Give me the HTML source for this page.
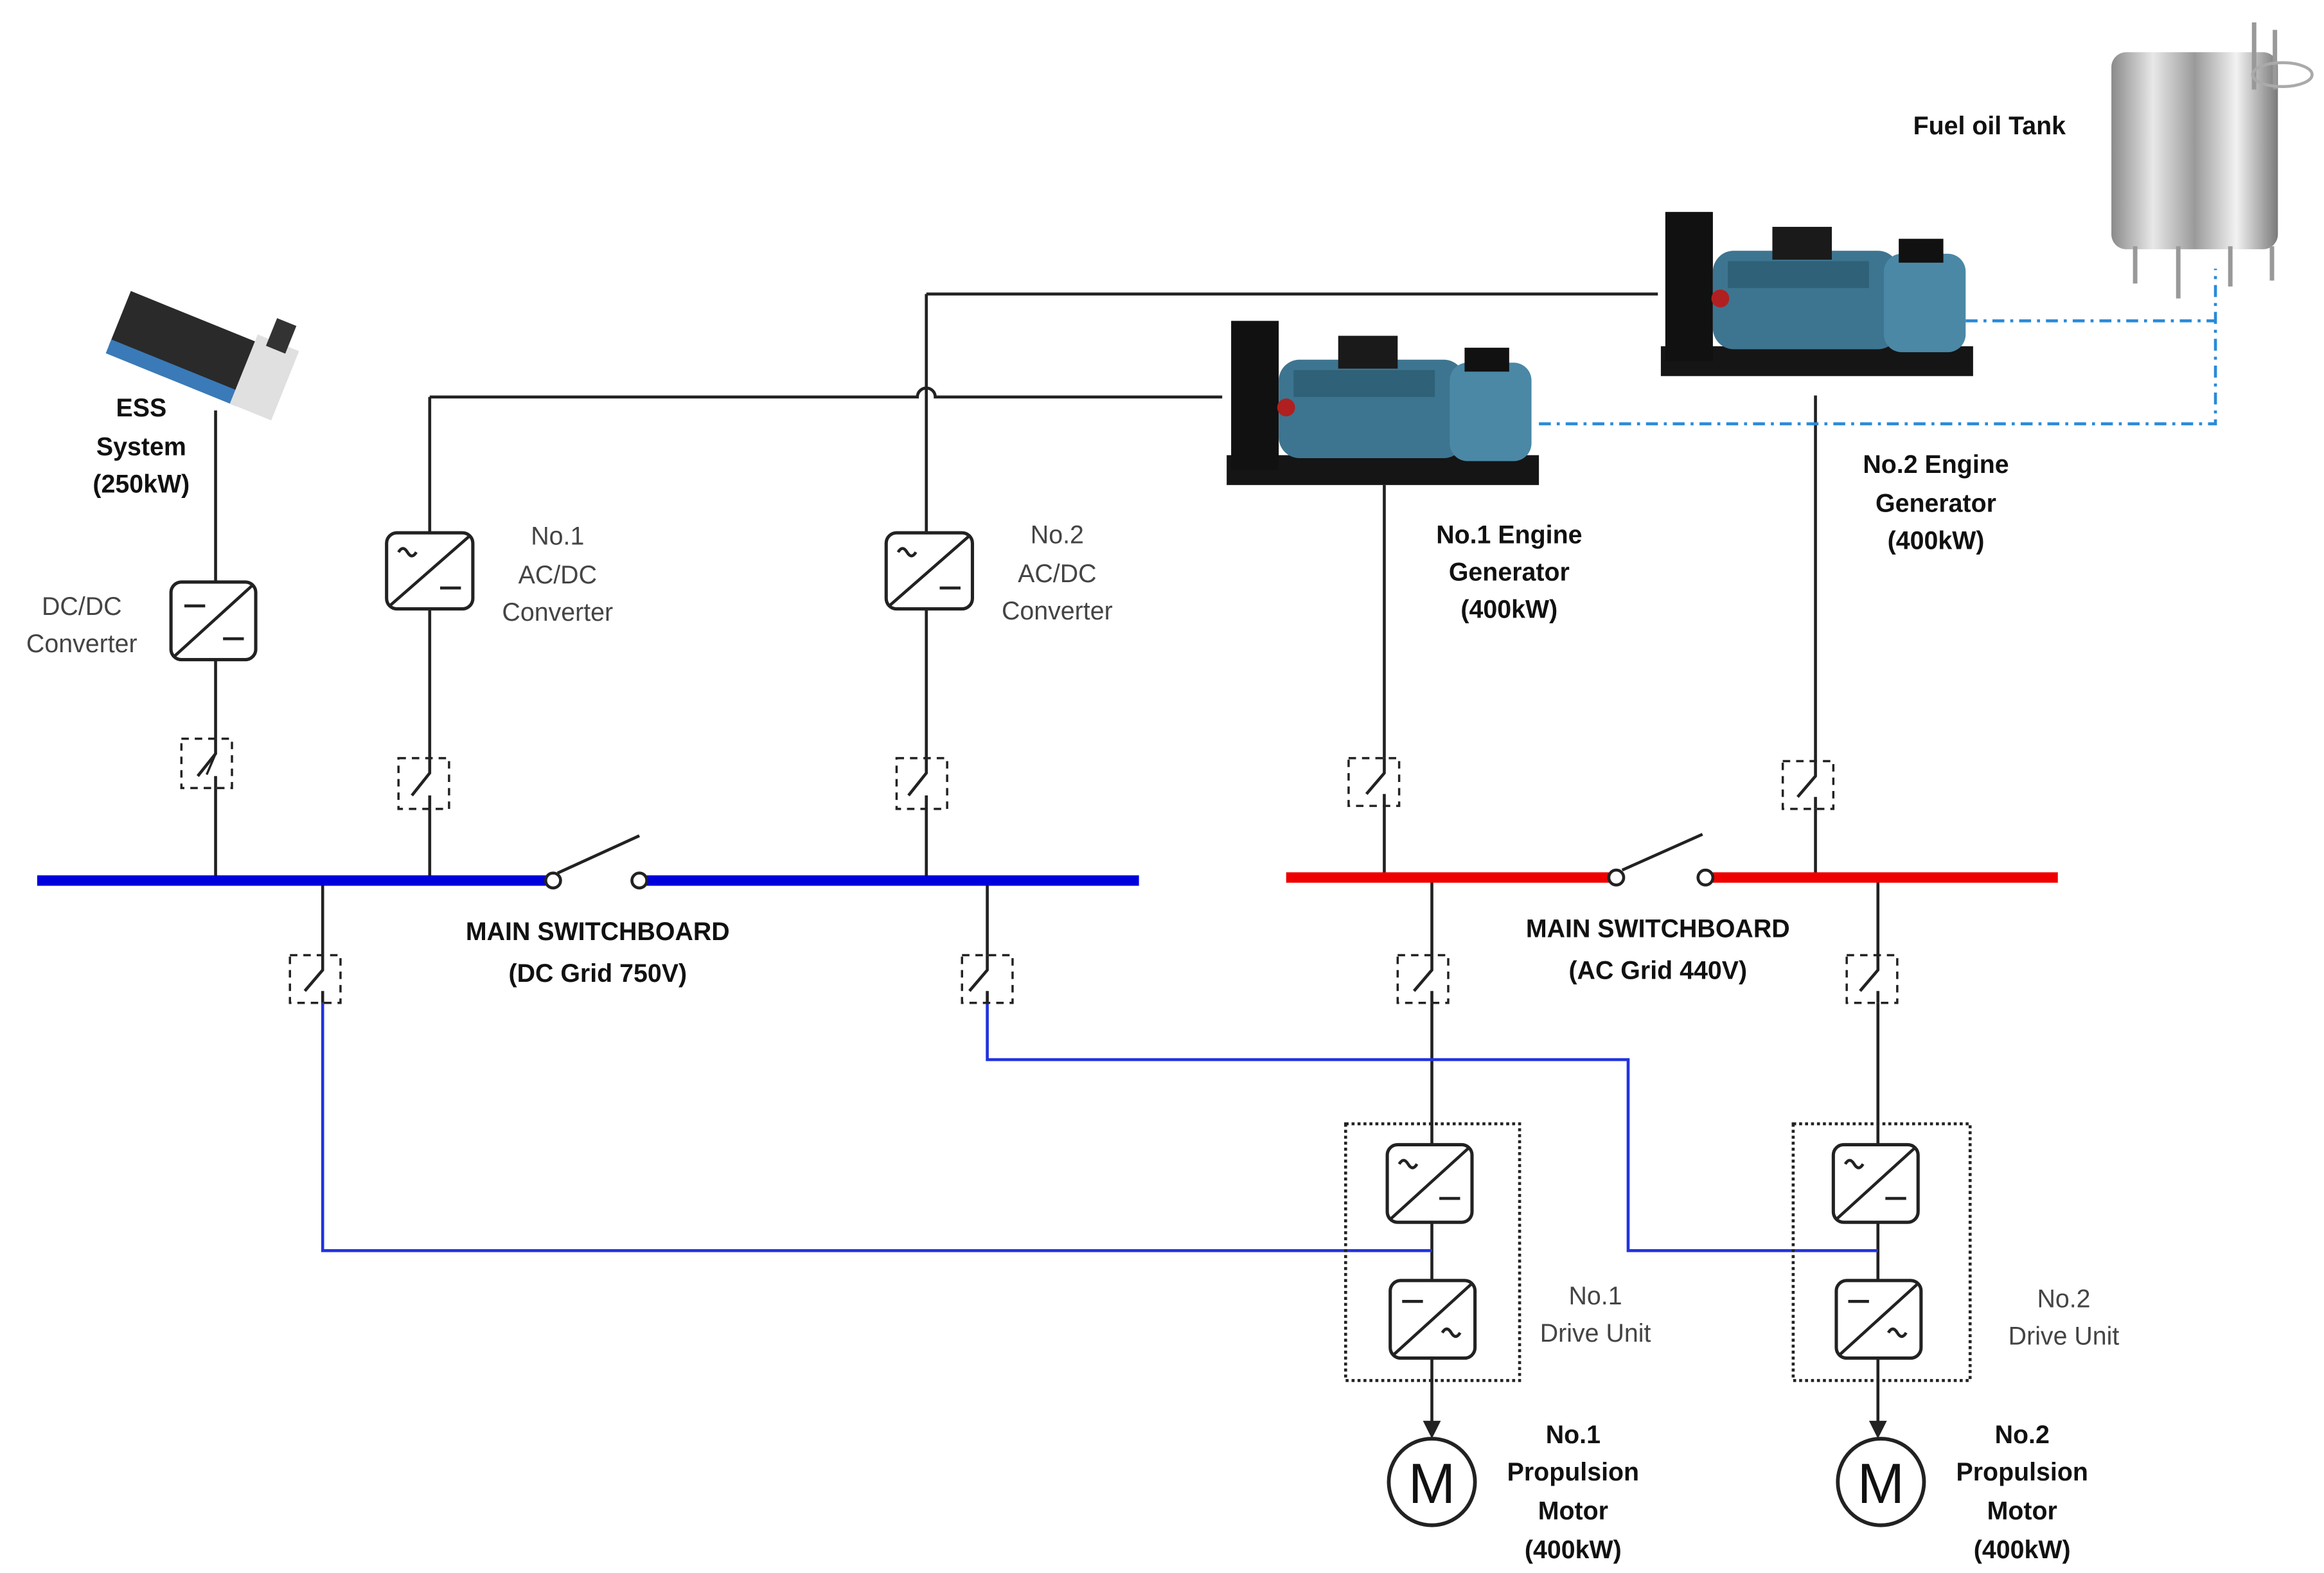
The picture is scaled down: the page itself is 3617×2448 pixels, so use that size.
<!DOCTYPE html>
<html><head><meta charset="utf-8"><style>
html,body{margin:0;padding:0;background:#fff;}
svg{display:block;}
text{font-family:"Liberation Sans",sans-serif;font-size:17px;fill:#111;text-anchor:middle;}
.b{font-weight:bold;}
.g{fill:#444;}
</style></head><body>
<svg width="3617" height="2448" viewBox="0 0 1563 1054" preserveAspectRatio="none" xmlns="http://www.w3.org/2000/svg">
<defs>
<linearGradient id="steel" x1="0" x2="1" y1="0" y2="0">
<stop offset="0" stop-color="#8a8a8a"/><stop offset="0.25" stop-color="#e8e8e8"/><stop offset="0.5" stop-color="#9a9a9a"/><stop offset="0.75" stop-color="#f2f2f2"/><stop offset="1" stop-color="#7a7a7a"/>
</linearGradient>
<g id="gen">
<rect x="0" y="92" width="210" height="20" fill="#151515"/>
<rect x="3" y="2" width="32" height="100" fill="#111"/>
<rect x="35" y="28" width="125" height="66" rx="14" fill="#3d7590"/>
<rect x="45" y="35" width="95" height="18" fill="#2f6178"/>
<rect x="75" y="12" width="40" height="22" fill="#1a1a1a"/>
<rect x="150" y="30" width="55" height="66" rx="12" fill="#4a88a6"/>
<rect x="160" y="20" width="30" height="16" fill="#111"/>
<circle cx="40" cy="60" r="6" fill="#b02020"/>
</g>
<g id="brk" fill="none" stroke="#222" stroke-width="1.5">
<rect x="-17" y="0" width="34" height="32" stroke-dasharray="5,4"/>
</g>
</defs>

<!-- black wiring -->
<g stroke="#222" stroke-width="2" fill="none">
<line x1="145" y1="275" x2="145" y2="590"/>
<line x1="289" y1="266" x2="289" y2="590"/>
<path d="M289 266 H617 A6 6 0 0 1 629 266 H822"/>
<line x1="623" y1="197" x2="623" y2="590"/>
<line x1="623" y1="197" x2="1115" y2="197"/>
<line x1="931" y1="325" x2="931" y2="590"/>
<line x1="1221" y1="265" x2="1221" y2="590"/>
<line x1="217" y1="592" x2="217" y2="672"/>
<line x1="664" y1="592" x2="664" y2="672"/>
<line x1="963" y1="590" x2="963" y2="955"/>
<line x1="1263" y1="590" x2="1263" y2="955"/>
</g>
<!-- arrows -->
<polygon points="957,952 969,952 963,964" fill="#222"/>
<polygon points="1257,952 1269,952 1263,964" fill="#222"/>
<!-- blue lines -->
<g stroke="#2233dd" stroke-width="2" fill="none">
<path d="M217 672 V838 H963"/>
<path d="M664 672 V710 H1095 V838 H1263"/>
</g>
<!-- fuel dash-dot -->
<g stroke="#2a8ad8" stroke-width="2" fill="none" stroke-dasharray="8,4,2,4">
<path d="M1322 215 H1490"/>
<path d="M1035 284 H1490 V180"/>
</g>

<!-- buses -->
<g stroke-width="7">
<line x1="25" y1="590" x2="367" y2="590" stroke="#0000dd"/>
<line x1="435" y1="590" x2="766" y2="590" stroke="#0000dd"/>
<line x1="865" y1="588" x2="1082" y2="588" stroke="#ee0000"/>
<line x1="1152" y1="588" x2="1384" y2="588" stroke="#ee0000"/>
</g>
<g stroke="#222" stroke-width="2" fill="#fff">
<line x1="375" y1="585" x2="430" y2="560"/>
<circle cx="372" cy="590" r="5"/><circle cx="430" cy="590" r="5"/>
<line x1="1091" y1="583" x2="1145" y2="559"/>
<circle cx="1087" cy="588" r="5"/><circle cx="1147" cy="588" r="5"/>
</g>

<!-- breakers -->
<g fill="#fff" stroke="#222" stroke-width="1.5">
<g transform="translate(139,495)"><rect x="-17" y="0" width="34" height="33" stroke-dasharray="5,4"/><path d="M6 2 V10 M6 10 L0 24" fill="none"/></g>
<g transform="translate(285,508)"><rect x="-17" y="0" width="34" height="34" stroke-dasharray="5,4"/></g>
<g transform="translate(620,508)"><rect x="-17" y="0" width="34" height="34" stroke-dasharray="5,4"/></g>
<g transform="translate(924,508)"><rect x="-17" y="0" width="34" height="32" stroke-dasharray="5,4"/></g>
<g transform="translate(1216,510)"><rect x="-17" y="0" width="34" height="32" stroke-dasharray="5,4"/></g>
<g transform="translate(212,640)"><rect x="-17" y="0" width="34" height="32" stroke-dasharray="5,4"/></g>
<g transform="translate(664,640)"><rect x="-17" y="0" width="34" height="32" stroke-dasharray="5,4"/></g>
<g transform="translate(957,640)"><rect x="-17" y="0" width="34" height="32" stroke-dasharray="5,4"/></g>
<g transform="translate(1259,640)"><rect x="-17" y="0" width="34" height="32" stroke-dasharray="5,4"/></g>
</g>
<g stroke="#222" stroke-width="2" fill="none">
<path d="M145 495 V505 L133 520 M145 520 V528"/>
<path d="M289 508 V518 L277 533 M289 533 V542"/>
<path d="M623 508 V518 L611 533 M623 533 V542"/>
<path d="M931 508 V518 L919 532 M931 532 V540"/>
<path d="M1221 510 V520 L1209 534 M1221 534 V542"/>
<path d="M217 640 V650 L205 664 M217 664 V672"/>
<path d="M664 640 V650 L652 664 M664 664 V672"/>
<path d="M963 640 V650 L951 664 M963 664 V672"/>
<path d="M1263 640 V650 L1251 664 M1263 664 V672"/>
</g>

<!-- drive unit dotted boxes -->
<g fill="none" stroke="#222" stroke-width="2" stroke-dasharray="2,2">
<rect x="905" y="753" width="117" height="172"/>
<rect x="1206" y="753" width="119" height="172"/>
</g>

<!-- converters -->
<g stroke="#222" stroke-width="2.2" fill="#fff">
<rect x="115" y="390" width="57" height="52" rx="7"/>
<rect x="260" y="357" width="58" height="51" rx="7"/>
<rect x="596" y="357" width="58" height="51" rx="7"/>
<rect x="933" y="767" width="57" height="52" rx="7"/>
<rect x="935" y="858" width="57" height="52" rx="7"/>
<rect x="1233" y="767" width="57" height="52" rx="7"/>
<rect x="1235" y="858" width="57" height="52" rx="7"/>
</g>
<g stroke="#222" stroke-width="2" fill="none">
<path d="M170 392 L117 440 M124 406 H138 M150 428 H164"/>
<path d="M316 359 L262 406 M296 394 H310 M268 370 q3 -5 6 0 t6 0"/>
<path d="M652 359 L598 406 M632 394 H646 M604 370 q3 -5 6 0 t6 0"/>
<path d="M988 769 L935 817 M968 803 H982 M941 780 q3 -5 6 0 t6 0"/>
<path d="M990 860 L937 908 M943 872 H957 M970 893 q3 -5 6 0 t6 0"/>
<path d="M1288 769 L1235 817 M1268 803 H1282 M1241 780 q3 -5 6 0 t6 0"/>
<path d="M1290 860 L1237 908 M1243 872 H1257 M1270 893 q3 -5 6 0 t6 0"/>
</g>

<!-- motors -->
<g stroke="#222" stroke-width="2.5" fill="#fff">
<circle cx="963" cy="993" r="29"/>
<circle cx="1265" cy="993" r="29"/>
</g>
<text x="963" y="1007" style="font-size:38px;">M</text>
<text x="1265" y="1007" style="font-size:38px;">M</text>

<!-- generators -->
<use href="#gen" transform="translate(825,213)"/>
<use href="#gen" transform="translate(1117,140)"/>

<!-- ESS -->
<g transform="translate(88,195) rotate(22)">
<rect x="0" y="0" width="95" height="40" fill="#2a2a2a"/>
<rect x="0" y="35" width="95" height="10" fill="#3a7ab8"/>
<rect x="90" y="-5" width="30" height="50" fill="#e0e0e0"/>
<rect x="98" y="-20" width="14" height="20" fill="#333"/>
</g>

<!-- Tank -->
<g>
<rect x="1420" y="35" width="112" height="132" rx="10" fill="url(#steel)"/>
<g stroke="#999" stroke-width="3">
<line x1="1436" y1="165" x2="1436" y2="190"/>
<line x1="1465" y1="165" x2="1465" y2="200"/>
<line x1="1500" y1="165" x2="1500" y2="192"/>
<line x1="1528" y1="165" x2="1528" y2="188"/>
<line x1="1516" y1="15" x2="1516" y2="60"/>
<line x1="1530" y1="20" x2="1530" y2="60"/>
</g>
<ellipse cx="1535" cy="50" rx="20" ry="8" fill="none" stroke="#aaa" stroke-width="2"/>
</g>

<!-- labels -->
<text class="b" x="1338" y="90">Fuel oil Tank</text>
<text class="b" x="95" y="279">ESS</text>
<text class="b" x="95" y="305">System</text>
<text class="b" x="95" y="330">(250kW)</text>
<text class="g" x="55" y="412">DC/DC</text>
<text class="g" x="55" y="437">Converter</text>
<text class="g" x="375" y="365">No.1</text>
<text class="g" x="375" y="391">AC/DC</text>
<text class="g" x="375" y="416">Converter</text>
<text class="g" x="711" y="364">No.2</text>
<text class="g" x="711" y="390">AC/DC</text>
<text class="g" x="711" y="415">Converter</text>
<text class="b" x="1015" y="364">No.1 Engine</text>
<text class="b" x="1015" y="389">Generator</text>
<text class="b" x="1015" y="414">(400kW)</text>
<text class="b" x="1302" y="317">No.2 Engine</text>
<text class="b" x="1302" y="343">Generator</text>
<text class="b" x="1302" y="368">(400kW)</text>
<text class="b" x="402" y="630">MAIN SWITCHBOARD</text>
<text class="b" x="402" y="658">(DC Grid 750V)</text>
<text class="b" x="1115" y="628">MAIN SWITCHBOARD</text>
<text class="b" x="1115" y="656">(AC Grid 440V)</text>
<text class="g" x="1073" y="874">No.1</text>
<text class="g" x="1073" y="899">Drive Unit</text>
<text class="g" x="1388" y="876">No.2</text>
<text class="g" x="1388" y="901">Drive Unit</text>
<text class="b" x="1058" y="967">No.1</text>
<text class="b" x="1058" y="992">Propulsion</text>
<text class="b" x="1058" y="1018">Motor</text>
<text class="b" x="1058" y="1044">(400kW)</text>
<text class="b" x="1360" y="967">No.2</text>
<text class="b" x="1360" y="992">Propulsion</text>
<text class="b" x="1360" y="1018">Motor</text>
<text class="b" x="1360" y="1044">(400kW)</text>
</svg>
</body></html>
